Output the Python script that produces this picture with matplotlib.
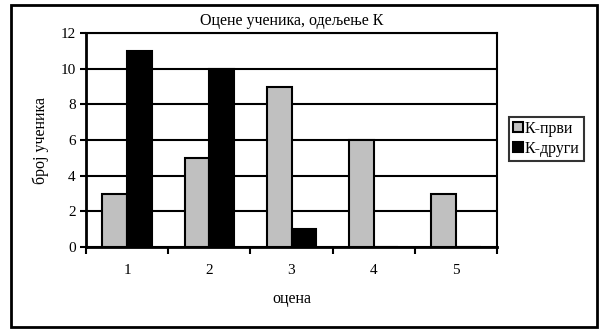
import numpy as np
import matplotlib.pyplot as plt
from matplotlib.patches import Rectangle

grades = ['1', '2', '3', '4', '5']
k_prvi = [3, 5, 9, 6, 3]
k_drugi = [11, 10, 1, 0, 0]

plt.rcParams['font.family'] = ['Liberation Serif', 'DejaVu Serif']

fig = plt.figure(figsize=(6, 3.29), dpi=100)
fig.patches.append(Rectangle((11/600, 1 - 327/329), 586/600, 322/329,
                             transform=fig.transFigure, fill=False,
                             edgecolor='black', linewidth=2))
ax = fig.add_axes([86/600, 1 - 247/329, 411/600, 214/329])

x = np.arange(1, len(grades) + 1)
w = 0.3
ax.bar(x - w/2, k_prvi, w, color='#c0c0c0', edgecolor='black', linewidth=1.5,
       label='К-први', zorder=3)
ax.bar(x + w/2, k_drugi, w, color='black', edgecolor='black', linewidth=1.5,
       label='К-други', zorder=3)

ax.set_xlim(0.5, 5.5)
ax.set_ylim(0, 12)
ax.set_yticks(range(0, 13, 2))
ax.set_xticks(np.arange(0.5, 6, 1))
ax.set_xticklabels([])
ax.set_xticks(x, minor=True)
ax.set_xticklabels(grades, minor=True)
ax.tick_params(axis='x', which='minor', length=0, pad=12, labelsize=11)
ax.tick_params(axis='x', which='major', length=5, width=1.5, direction='out')
ax.tick_params(axis='y', length=4, width=1.5, direction='out', labelsize=11)
ax.yaxis.grid(True, color='black', linewidth=1.5, zorder=0)
for s in ax.spines.values():
    s.set_linewidth(1.5)
ax.spines['left'].set_linewidth(2)
ax.spines['bottom'].set_linewidth(2)

ax.set_title('Оцене ученика, одељење К', fontsize=11.5, pad=6)
ax.set_xlabel('оцена', fontsize=11.5, labelpad=10)
ax.set_ylabel('број ученика', fontsize=11.5, labelpad=8)

leg = ax.legend(loc='center left', bbox_to_anchor=(509/600, 1 - 139/329),
                bbox_transform=fig.transFigure, fontsize=11.5, frameon=True,
                fancybox=False, edgecolor='black', handlelength=0.6,
                handleheight=0.6, handletextpad=0.15, borderpad=0.25,
                labelspacing=0.25, borderaxespad=0)
leg.get_frame().set_linewidth(1.5)

fig.savefig('out.png', dpi=100)
